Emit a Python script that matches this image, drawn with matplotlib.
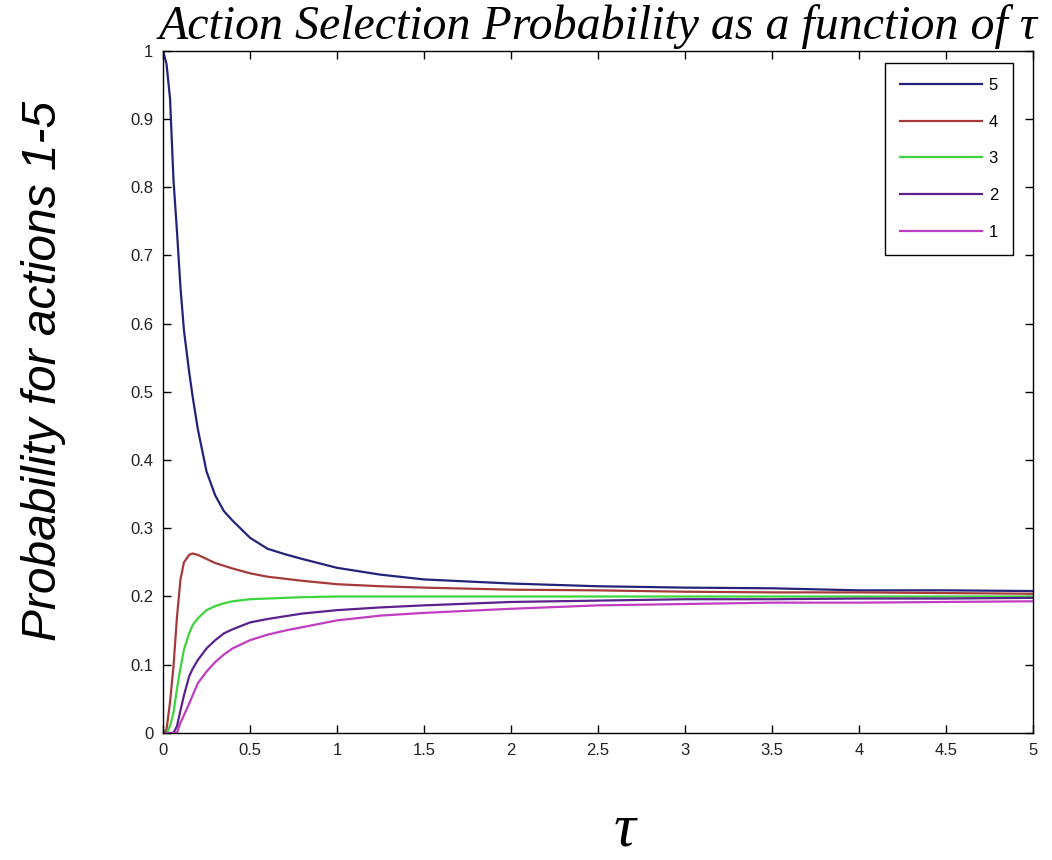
import matplotlib.pyplot as plt
import numpy as np

# tau values the curves were read at
tau = [0, 0.02, 0.04, 0.06, 0.08, 0.10, 0.12, 0.15, 0.17, 0.20, 0.25, 0.30,
       0.35, 0.40, 0.50, 0.60, 0.70, 0.80, 1.0, 1.25, 1.5, 2.0, 2.5, 3.0,
       3.5, 4.0, 4.5, 5.0]

p5 = [1.0, 0.98, 0.93, 0.81, 0.735, 0.653, 0.59, 0.529, 0.493, 0.445, 0.383,
      0.348, 0.325, 0.311, 0.286, 0.27, 0.262, 0.255, 0.242, 0.232, 0.225,
      0.219, 0.215, 0.213, 0.212, 0.209, 0.209, 0.208]
p4 = [0, 0.005, 0.045, 0.098, 0.17, 0.225, 0.25, 0.261, 0.263, 0.261, 0.255,
      0.249, 0.245, 0.241, 0.234, 0.229, 0.226, 0.223, 0.218, 0.215, 0.213,
      0.210, 0.209, 0.207, 0.206, 0.206, 0.205, 0.204]
p3 = [0, 0, 0.01, 0.03, 0.065, 0.095, 0.122, 0.146, 0.158, 0.168, 0.18,
      0.186, 0.19, 0.193, 0.196, 0.197, 0.198, 0.199, 0.2, 0.2, 0.2, 0.2,
      0.2, 0.2, 0.2, 0.2, 0.2, 0.2]
p2 = [0, 0, 0, 0, 0.01, 0.033, 0.055, 0.083, 0.094, 0.107, 0.124, 0.136,
      0.146, 0.152, 0.162, 0.167, 0.171, 0.175, 0.18, 0.184, 0.187, 0.192,
      0.194, 0.196, 0.196, 0.197, 0.197, 0.198]
p1 = [0, 0, 0, 0, 0, 0.015, 0.026, 0.043, 0.055, 0.073, 0.09, 0.104, 0.115,
      0.124, 0.136, 0.144, 0.15, 0.155, 0.165, 0.172, 0.176, 0.182, 0.187,
      0.189, 0.191, 0.191, 0.192, 0.193]

labels = ["5", "4", "3", "2", "1"]
colors = ["#23237a", "#a63a3a", "#3ed43e", "#5a228c", "#c03cc0"]

fig = plt.figure(figsize=(10.52, 8.6), dpi=100)
ax = fig.add_axes([0.155, 0.1477, 0.827, 0.7935])

for vals, lab, col in zip([p5, p4, p3, p2, p1], labels, colors):
    ax.plot(tau, vals, color=col, linewidth=1.6, label=lab)

ax.set_xlim(0, 5)
ax.set_ylim(0, 1)
ax.set_xticks(np.arange(0, 5.01, 0.5))
ax.set_xticklabels(["0", "0.5", "1", "1.5", "2", "2.5", "3", "3.5", "4", "4.5", "5"])
ax.set_yticks(np.arange(0, 1.01, 0.1))
ax.set_yticklabels(["0", "0.1", "0.2", "0.3", "0.4", "0.5", "0.6", "0.7", "0.8", "0.9", "1"])
ax.tick_params(direction="in", length=6, width=1, top=True, right=True,
               labelsize=12, labelcolor="#222222", pad=7)
for lbl in ax.get_xticklabels() + ax.get_yticklabels():
    lbl.set_family("Liberation Sans")
for s in ax.spines.values():
    s.set_linewidth(1.0)

ax.set_title("Action Selection Probability as a function of τ",
             family="Liberation Serif", style="italic", fontsize=34.5, pad=8)
ax.set_ylabel("Probability for actions 1-5", family="Liberation Sans",
              style="italic", fontsize=34.5)
ax.yaxis.set_label_coords(-0.111, 0.531)
ax.set_xlabel("τ", family="Liberation Serif", style="italic", fontsize=44)
ax.xaxis.label.set_va("baseline")
ax.xaxis.set_label_coords(0.531, -0.165)

leg = ax.legend(loc="upper right", bbox_to_anchor=(0.977, 0.982),
                borderaxespad=0, handlelength=4.9, handletextpad=0.4,
                labelspacing=1.3, borderpad=0.9, fancybox=False,
                framealpha=1, edgecolor="black",
                prop={"family": "Liberation Sans", "size": 12})
leg.get_frame().set_linewidth(1.0)

fig.savefig("out.png", dpi=100)
